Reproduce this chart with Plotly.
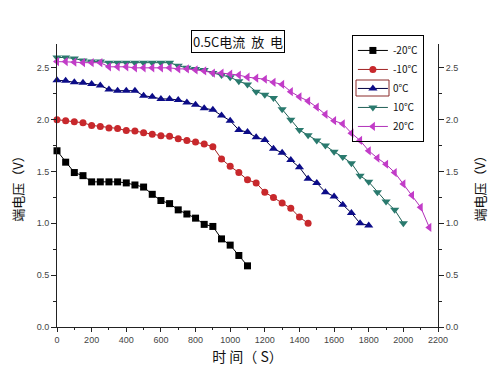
import plotly.graph_objects as go

step = 50
t_m20 = list(range(0, 1101, step))
v_m20 = [1.70, 1.59, 1.49, 1.46, 1.40, 1.40, 1.40, 1.40, 1.39, 1.37, 1.35, 1.28,
         1.22, 1.19, 1.13, 1.09, 1.05, 0.99, 0.97, 0.85, 0.79, 0.69, 0.59]

t_m10 = list(range(0, 1451, step))
v_m10 = [2.00, 1.99, 1.98, 1.97, 1.945, 1.935, 1.92, 1.915, 1.895, 1.89, 1.875, 1.86,
         1.845, 1.84, 1.815, 1.80, 1.785, 1.765, 1.74, 1.62, 1.55, 1.49, 1.42, 1.39,
         1.30, 1.25, 1.195, 1.145, 1.06, 1.00]

t_0 = list(range(0, 1801, step))
v_0 = [2.38, 2.375, 2.36, 2.355, 2.345, 2.33, 2.29, 2.28, 2.28, 2.28, 2.23, 2.22,
       2.20, 2.20, 2.19, 2.165, 2.145, 2.11, 2.095, 2.04, 1.99, 1.90, 1.88, 1.83,
       1.805, 1.72, 1.68, 1.61, 1.54, 1.43, 1.39, 1.30, 1.26, 1.18, 1.10, 1.00, 0.98]

t_10 = list(range(0, 2001, step))
v_10 = [2.60, 2.60, 2.59, 2.57, 2.56, 2.56, 2.55, 2.55, 2.55, 2.55, 2.55, 2.55,
        2.55, 2.55, 2.52, 2.50, 2.49, 2.48, 2.45, 2.43, 2.41, 2.37, 2.34, 2.27,
        2.24, 2.21, 2.10, 2.00, 1.90, 1.85, 1.80, 1.75, 1.69, 1.64, 1.58, 1.46,
        1.40, 1.30, 1.21, 1.13, 1.00]

t_20 = list(range(0, 2151, step))
v_20 = [2.56, 2.56, 2.555, 2.55, 2.55, 2.55, 2.51, 2.51, 2.51, 2.50, 2.50, 2.50,
        2.50, 2.50, 2.49, 2.49, 2.48, 2.47, 2.45, 2.45, 2.44, 2.43, 2.41, 2.40,
        2.39, 2.36, 2.34, 2.27, 2.22, 2.18, 2.12, 2.05, 1.99, 1.96, 1.87, 1.80,
        1.70, 1.63, 1.57, 1.49, 1.38, 1.27, 1.155, 0.96]

names = ["-20℃", "-10℃", "0℃", "10℃", "20℃"]
colors = ["#000000", "#c8282c", "#0c0c88", "#2a7a6e", "#c23cc8"]
linecolors = ["#000000", "#a02020", "#000040", "#1f5f55", "#b030b8"]
symbols = ["square", "circle", "triangle-up", "triangle-down", "triangle-left"]
msizes = [7, 7, 8, 8, 8]
series = [(t_m20, v_m20), (t_m10, v_m10), (t_0, v_0), (t_10, v_10), (t_20, v_20)]

x_ticks = list(range(0, 2201, 200))
y_ticks = [0.0, 0.5, 1.0, 1.5, 2.0, 2.5]
y_tick_text = ["0.0", "0.5", "1.0", "1.5", "2.0", "2.5"]

fig = go.Figure()
for (t, v), n, c, lc, s, ms in zip(series, names, colors, linecolors, symbols, msizes):
    fig.add_trace(go.Scatter(
        x=t, y=v, name=n, mode="lines+markers",
        line=dict(color=lc, width=1),
        marker=dict(symbol=s, color=c, size=ms, line=dict(width=0)),
        cliponaxis=False,
    ))

# invisible trace to make right axis appear
fig.add_trace(go.Scatter(x=[0], y=[0], yaxis="y2", showlegend=False,
                         mode="markers", marker=dict(opacity=0), hoverinfo="skip"))

tickfont = dict(family="Liberation Sans, Arial", size=9, color="#444444")
cjk = "Noto Sans CJK SC"

# page body has an 8px margin: plot area target is x 57-438, y 44-327 in the window
W, H = 492, 375
fig.update_layout(
    width=W, height=H,
    margin=dict(l=49, r=62, t=36, b=56, autoexpand=False),
    paper_bgcolor="white", plot_bgcolor="white",
    showlegend=True,
    legend=dict(x=0.774, y=1.032, xanchor="left", yanchor="top",
                bordercolor="black", borderwidth=1, bgcolor="rgba(255,255,255,0)",
                font=dict(family=cjk, size=10, color="#111111"),
                itemwidth=30, tracegroupgap=0),
    xaxis=dict(range=[0, 2200], tickvals=x_ticks, showline=True, linecolor="#222222",
               linewidth=1, ticks="outside", ticklen=4, tickcolor="#222222",
               minor=dict(dtick=100, ticks="outside", ticklen=2, tickcolor="#222222"),
               showgrid=False, zeroline=False, tickfont=tickfont, automargin=False,
               title=dict(text="时 间（ S）", font=dict(family=cjk, size=14, color="#111111"),
                          standoff=8)),
    yaxis=dict(range=[0, 2.73], tickvals=y_ticks, ticktext=y_tick_text, showline=True,
               linecolor="#222222", linewidth=1, ticks="outside", ticklen=5,
               tickcolor="#222222", automargin=False,
               minor=dict(dtick=0.25, ticks="outside", ticklen=3, tickcolor="#222222"),
               showgrid=False, zeroline=False, tickfont=tickfont,
               title=dict(text="端电压（V）", font=dict(family=cjk, size=13, color="#111111"),
                          standoff=10)),
    yaxis2=dict(range=[0, 2.73], overlaying="y", side="right", anchor="x",
                tickvals=y_ticks, ticktext=y_tick_text, showline=True,
                linecolor="#222222", linewidth=1, ticks="outside", ticklen=5,
                tickcolor="#222222", automargin=False,
                minor=dict(dtick=0.25, ticks="outside", ticklen=3, tickcolor="#222222"),
                showgrid=False, zeroline=False, tickfont=tickfont),
)

# right axis title
fig.add_annotation(x=1.11, y=0.5, xref="paper", yref="paper", xanchor="center",
                   yanchor="middle", text="端电压（V）", textangle=-90, showarrow=False,
                   font=dict(family=cjk, size=13, color="#111111"))

fig.add_annotation(x=0.474, y=1.009, xref="paper", yref="paper", xanchor="center",
                   yanchor="middle", text="0.5C电流  放  电", showarrow=False,
                   font=dict(family=cjk, size=13, color="#111111"),
                   bordercolor="black", borderwidth=1, borderpad=1, bgcolor="white")

# red outline around the 0℃ legend entry
def px2x(px):
    return (px - 57) / 381.0

def py2y(py):
    return (327 - py) / 283.0

fig.add_shape(type="rect", xref="paper", yref="paper",
              x0=px2x(356), x1=px2x(389), y0=py2y(80), y1=py2y(96),
              line=dict(color="#8b2a2a", width=1))

fig.write_html("out.html")
